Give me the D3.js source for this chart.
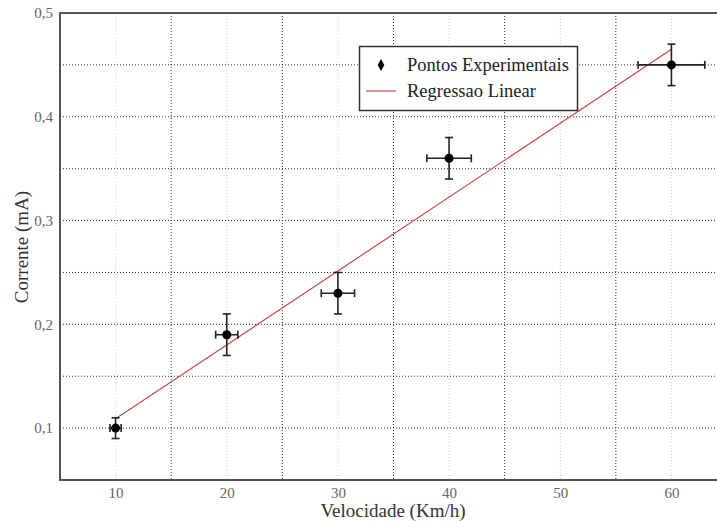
<!DOCTYPE html>
<html><head><meta charset="utf-8">
<script src="https://cdn.jsdelivr.net/npm/d3@7"></script>
<style>body{margin:0;background:#fff;overflow:hidden}svg{display:block}</style>
</head><body>
<script>
const velocidade = [10, 20, 30, 40, 60];
const corrente = [0.10, 0.19, 0.23, 0.36, 0.45];
const erroX = [0.5, 1, 1.5, 2, 3];
const erroY = [0.01, 0.02, 0.02, 0.02, 0.02];
const regX = [10, 60];
const regY = [0.109, 0.465];
const xTicks = [10, 20, 30, 40, 50, 60];
const xMinor = [15, 25, 35, 45, 55];
const yTicks = [0.1, 0.2, 0.3, 0.4, 0.5];
const yGrid = [0.1, 0.15, 0.2, 0.25, 0.3, 0.35, 0.4, 0.45];

const W = 717, H = 521;
const L = 60, T = 13, B = 480, R = 727;
const FONT = "'Times New Roman', Times, 'Liberation Serif', Tinos, 'DejaVu Serif', 'Noto Serif', serif";
const svg = d3.select("body").append("svg").attr("width", W).attr("height", H);
const x = d3.scaleLinear().domain([5, 65]).range([L, R]);
const y = d3.scaleLinear().domain([0.05, 0.5]).range([B, T]);
const fmt = d => d3.format(".1f")(d).replace(".", ",");

// grid
svg.append("g").selectAll("line").data(yGrid).join("line")
  .attr("x1", L).attr("x2", R).attr("y1", d => y(d)).attr("y2", d => y(d))
  .attr("stroke", "#333").attr("stroke-width", 1).attr("stroke-dasharray", "1,2");
svg.append("g").selectAll("line").data(xTicks).join("line")
  .attr("x1", d => x(d)).attr("x2", d => x(d)).attr("y1", T).attr("y2", B)
  .attr("stroke", "#ccc").attr("stroke-width", 1).attr("stroke-dasharray", "1,2");
svg.append("g").selectAll("line").data(xMinor).join("line")
  .attr("x1", d => x(d)).attr("x2", d => x(d)).attr("y1", T).attr("y2", B)
  .attr("stroke", "#333").attr("stroke-width", 1).attr("stroke-dasharray", "1,2");

// axes
const xAxis = d3.axisBottom(x).tickValues(xTicks).tickSize(0).tickPadding(7);
const gx = svg.append("g").attr("transform", `translate(0,${B})`).call(xAxis);
const yAxis = d3.axisLeft(y).tickValues(yTicks).tickSize(0).tickPadding(7).tickFormat(fmt);
const gy = svg.append("g").attr("transform", `translate(${L},0)`).call(yAxis);
[gx, gy].forEach(g => {
  g.attr("font-family", FONT).attr("font-size", 15);
  g.select(".domain").remove();
  g.selectAll("text").attr("font-family", FONT).attr("font-size", 15).attr("fill", "#666");
});
svg.append("line").attr("x1", L).attr("x2", R).attr("y1", T).attr("y2", T).attr("stroke", "#555").attr("stroke-width", 2);
svg.append("line").attr("x1", L).attr("x2", R).attr("y1", B).attr("y2", B).attr("stroke", "#555").attr("stroke-width", 2);
svg.append("line").attr("x1", L).attr("x2", L).attr("y1", T - 1).attr("y2", B + 1).attr("stroke", "#555").attr("stroke-width", 2);

// regression line
svg.append("line").attr("x1", x(regX[0])).attr("y1", y(regY[0])).attr("x2", x(regX[1])).attr("y2", y(regY[1]))
  .attr("stroke", "#c84a4a").attr("stroke-width", 1.2);

// error bars and points
const pts = velocidade.map((v, i) => ({x: v, y: corrente[i], ex: erroX[i], ey: erroY[i]}));
const gp = svg.append("g").attr("stroke", "#222").attr("stroke-width", 1.6);
pts.forEach(p => {
  gp.append("line").attr("x1", x(p.x)).attr("x2", x(p.x)).attr("y1", y(p.y - p.ey)).attr("y2", y(p.y + p.ey));
  gp.append("line").attr("x1", x(p.x) - 4).attr("x2", x(p.x) + 4).attr("y1", y(p.y - p.ey)).attr("y2", y(p.y - p.ey));
  gp.append("line").attr("x1", x(p.x) - 4).attr("x2", x(p.x) + 4).attr("y1", y(p.y + p.ey)).attr("y2", y(p.y + p.ey));
  gp.append("line").attr("x1", x(p.x - p.ex)).attr("x2", x(p.x + p.ex)).attr("y1", y(p.y)).attr("y2", y(p.y));
  gp.append("line").attr("x1", x(p.x - p.ex)).attr("x2", x(p.x - p.ex)).attr("y1", y(p.y) - 4).attr("y2", y(p.y) + 4);
  gp.append("line").attr("x1", x(p.x + p.ex)).attr("x2", x(p.x + p.ex)).attr("y1", y(p.y) - 4).attr("y2", y(p.y) + 4);
});
svg.append("g").selectAll("circle").data(pts).join("circle")
  .attr("cx", d => x(d.x)).attr("cy", d => y(d.y)).attr("r", 4.5).attr("fill", "#000");

// axis titles
svg.append("text").attr("x", 393).attr("y", 517).attr("text-anchor", "middle")
  .attr("font-family", FONT).attr("font-size", 19).attr("fill", "#333").text("Velocidade (Km/h)");
svg.append("text").attr("transform", "translate(28,247) rotate(-90)").attr("text-anchor", "middle")
  .attr("font-family", FONT).attr("font-size", 19).attr("fill", "#333").text("Corrente (mA)");

// legend
const lg = svg.append("g");
lg.append("rect").attr("x", 359.5).attr("y", 46.5).attr("width", 218).attr("height", 64)
  .attr("fill", "#fff").attr("stroke", "#333").attr("stroke-width", 1.5);
lg.append("path").attr("d", d3.symbol(d3.symbolDiamond, 40)()).attr("transform", "translate(381,65)").attr("fill", "#000");
lg.append("line").attr("x1", 366).attr("x2", 396).attr("y1", 91).attr("y2", 91).attr("stroke", "#c84a4a").attr("stroke-width", 1.2);
lg.append("text").attr("x", 407).attr("y", 71).attr("font-family", FONT).attr("font-size", 18.5).attr("fill", "#222").text("Pontos Experimentais");
lg.append("text").attr("x", 407).attr("y", 97).attr("font-family", FONT).attr("font-size", 18.5).attr("fill", "#222").text("Regressao Linear");
</script>
</body></html>
